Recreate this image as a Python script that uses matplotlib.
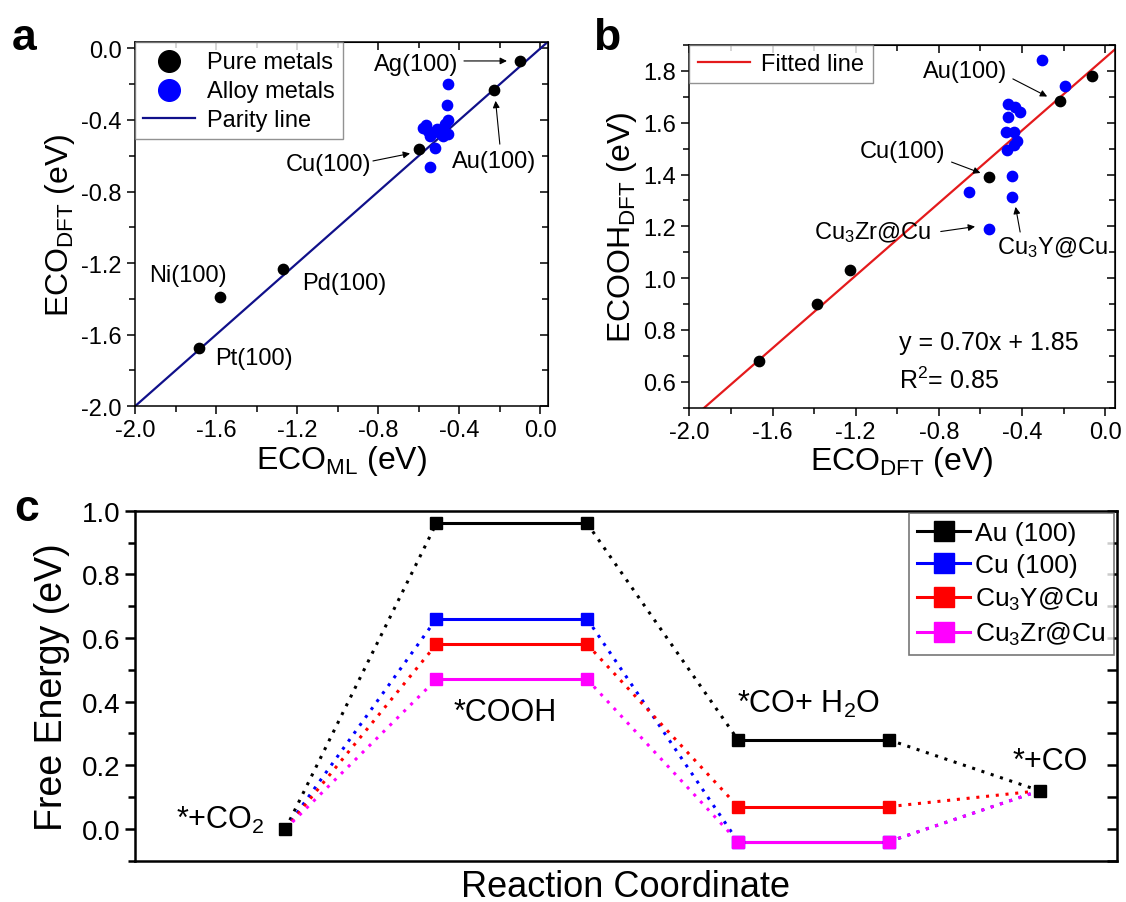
import numpy as np
import matplotlib
matplotlib.use('Agg')
from matplotlib import pyplot as plt
from matplotlib.ticker import MultipleLocator

plt.rcParams['font.family'] = ['Liberation Sans', 'DejaVu Sans']
plt.rcParams['mathtext.fontset'] = 'custom'
plt.rcParams['mathtext.rm'] = 'Liberation Sans'
plt.rcParams['mathtext.it'] = 'Liberation Sans:italic'
plt.rcParams['mathtext.bf'] = 'Liberation Sans:bold'
plt.rcParams['axes.unicode_minus'] = False

# ---- panel a : ECO ML vs DFT ----
pure_ml = [-0.099, -0.230, -0.597, -1.271, -1.580, -1.682]
pure_dft = [-0.073, -0.231, -0.563, -1.231, -1.390, -1.673]
alloy_ml = [-0.457, -0.460, -0.457, -0.471, -0.578, -0.564, -0.553, -0.512,
            -0.495, -0.454, -0.545, -0.481, -0.520, -0.547, -0.535]
alloy_dft = [-0.200, -0.315, -0.401, -0.424, -0.442, -0.429, -0.461, -0.452,
             -0.470, -0.480, -0.489, -0.489, -0.554, -0.663, -0.470]

# ---- panel b : ECOOH vs ECO (DFT) ----
pure_eco = [-1.666, -1.388, -1.226, -0.557, -0.217, -0.061]
pure_ecooh = [0.680, 0.902, 1.030, 1.392, 1.682, 1.781]
alloy_eco = [-0.467, -0.434, -0.410, -0.467, -0.478, -0.439, -0.423, -0.439,
             -0.474, -0.450, -0.450, -0.654, -0.305, -0.195, -0.560]
alloy_ecooh = [1.673, 1.660, 1.643, 1.622, 1.564, 1.564, 1.531, 1.512,
               1.493, 1.393, 1.313, 1.333, 1.842, 1.742, 1.191]
fit_slope, fit_icpt = 0.70, 1.85

# ---- panel c : free energy diagram ----
steps = [1, 2, 3, 4, 5, 6]
surfaces = ['Au (100)', 'Cu (100)', 'Cu$_3$Y@Cu', 'Cu$_3$Zr@Cu']
colors = ['#000000', '#0000ff', '#ff0000', '#ff00ff']
G = [[0.0, 0.96, 0.96, 0.28, 0.28, 0.12],
     [0.0, 0.66, 0.66, -0.04, -0.04, 0.12],
     [0.0, 0.58, 0.58, 0.07, 0.07, 0.12],
     [0.0, 0.47, 0.47, -0.04, -0.04, 0.12]]

fig = plt.figure(figsize=(11.26, 9.03), dpi=100)
ax1 = fig.add_axes([0.1199, 0.549, 0.3672, 0.403])
ax2 = fig.add_axes([0.6123, 0.5474, 0.3775, 0.4017])
ax3 = fig.add_axes([0.1196, 0.0457, 0.872, 0.3876])


def style_box(ax, lw=1.1):
    for s in ax.spines.values():
        s.set_linewidth(lw)
    ax.tick_params(which='both', direction='out', labelsize=17, width=lw)
    ax.tick_params(which='major', length=6)
    ax.tick_params(which='minor', length=4)
    # origin style: inward ticks on top/right
    top = ax.secondary_xaxis('top')
    top.xaxis.set_major_locator(MultipleLocator(0.4))
    top.xaxis.set_minor_locator(MultipleLocator(0.2))
    right = ax.secondary_yaxis('right')
    right.yaxis.set_major_locator(ax.yaxis.get_major_locator())
    right.yaxis.set_minor_locator(ax.yaxis.get_minor_locator())
    for tw in (top, right):
        tw.tick_params(which='both', direction='in', width=lw, labelsize=0)
        tw.tick_params(which='major', length=6)
        tw.tick_params(which='minor', length=4)
    top.set_xticklabels([])
    right.set_yticklabels([])


arrow = dict(arrowstyle='-|>', color='k', lw=0.8, mutation_scale=10, shrinkA=0, shrinkB=0)
fs_ann = 17

# panel a
ax1.plot([-2, 0.04], [-2, 0.04], color='#10108a', lw=1.6, label='Parity line', zorder=1)
ax1.scatter(pure_ml, pure_dft, s=55, color='k', zorder=3, label='Pure metals')
ax1.scatter(alloy_ml, alloy_dft, s=55, color='#0000ff', zorder=2, label='Alloy metals')
ax1.set_xlim(-2, 0.04)
ax1.set_ylim(-2, 0.034)
ax1.xaxis.set_major_locator(MultipleLocator(0.4))
ax1.xaxis.set_minor_locator(MultipleLocator(0.2))
ax1.yaxis.set_major_locator(MultipleLocator(0.4))
ax1.yaxis.set_minor_locator(MultipleLocator(0.2))
style_box(ax1)
ax1.set_xlabel('ECO$_{\\mathrm{ML}}$ (eV)', fontsize=23, labelpad=1)
ax1.set_ylabel('ECO$_{\\mathrm{DFT}}$ (eV)', fontsize=23, labelpad=3)
h, l = ax1.get_legend_handles_labels()
leg = ax1.legend([h[1], h[2], h[0]], [l[1], l[2], l[0]], loc='upper left', fontsize=17,
                 fancybox=False, borderaxespad=0, markerscale=2.1, handlelength=2.2,
                 handletextpad=0.5, labelspacing=0.3, borderpad=0.35)
leg.get_frame().set_edgecolor('#777777')
leg.get_frame().set_linewidth(1.0)
ax1.text(-0.821, -0.088, 'Ag(100)', fontsize=fs_ann, va='center')
ax1.annotate('', xy=(-0.165, -0.070), xytext=(-0.377, -0.070), arrowprops=arrow)
ax1.text(-0.436, -0.631, 'Au(100)', fontsize=fs_ann, va='center')
ax1.annotate('', xy=(-0.221, -0.293), xytext=(-0.200, -0.535), arrowprops=arrow)
ax1.text(-1.257, -0.647, 'Cu(100)', fontsize=fs_ann, va='center')
ax1.annotate('', xy=(-0.643, -0.587), xytext=(-0.826, -0.629), arrowprops=arrow)
ax1.text(-1.931, -1.269, 'Ni(100)', fontsize=fs_ann, va='center')
ax1.text(-1.177, -1.313, 'Pd(100)', fontsize=fs_ann, va='center')
ax1.text(-1.603, -1.729, 'Pt(100)', fontsize=fs_ann, va='center')

# panel b
xf = np.array([-2.0, 0.05])
ax2.plot(xf, fit_slope * xf + fit_icpt, color='#e41a1c', lw=1.6, label='Fitted line', zorder=1)
ax2.scatter(pure_eco, pure_ecooh, s=55, color='k', zorder=3)
ax2.scatter(alloy_eco, alloy_ecooh, s=55, color='#0000ff', zorder=2)
ax2.set_xlim(-2, 0.045)
ax2.set_ylim(0.5, 1.9)
ax2.xaxis.set_major_locator(MultipleLocator(0.4))
ax2.xaxis.set_minor_locator(MultipleLocator(0.2))
ax2.yaxis.set_major_locator(MultipleLocator(0.2))
ax2.yaxis.set_minor_locator(MultipleLocator(0.1))
style_box(ax2)
ax2.set_xlabel('ECO$_{\\mathrm{DFT}}$ (eV)', fontsize=23, labelpad=1)
ax2.set_ylabel('ECOOH$_{\\mathrm{DFT}}$ (eV)', fontsize=23, labelpad=3)
leg2 = ax2.legend(loc='upper left', fontsize=17, fancybox=False, borderaxespad=0,
                  handlelength=2.2, handletextpad=0.5, borderpad=0.35)
leg2.get_frame().set_edgecolor('#777777')
leg2.get_frame().set_linewidth(1.0)
ax2.text(-0.878, 1.801, 'Au(100)', fontsize=fs_ann, va='center')
ax2.annotate('', xy=(-0.279, 1.701), xytext=(-0.444, 1.769), arrowprops=arrow)
ax2.text(-1.182, 1.489, 'Cu(100)', fontsize=fs_ann, va='center')
ax2.annotate('', xy=(-0.600, 1.406), xytext=(-0.739, 1.448), arrowprops=arrow)
ax2.text(-1.399, 1.178, 'Cu$_3$Zr@Cu', fontsize=fs_ann, va='center')
ax2.annotate('', xy=(-0.626, 1.199), xytext=(-0.791, 1.180), arrowprops=arrow)
ax2.text(-0.522, 1.122, 'Cu$_3$Y@Cu', fontsize=fs_ann, va='center')
ax2.annotate('', xy=(-0.431, 1.275), xytext=(-0.409, 1.178), arrowprops=arrow)
ax2.text(-0.990, 0.755, 'y = 0.70x + 1.85', fontsize=18, va='center')
ax2.text(-0.990, 0.607, 'R$^2$= 0.85', fontsize=18, va='center')

# panel c
for name, col, g in zip(surfaces, colors, G):
    # dotted connectors between states
    for i in (0, 2, 4):
        ax3.plot(steps[i:i + 2], g[i:i + 2], color=col, lw=2.2, ls=(0, (1, 2.2)), zorder=1)
    ax3.plot(steps[1:3], g[1:3], color=col, lw=2.2, zorder=2)
    ax3.plot(steps[3:5], g[3:5], color=col, lw=2.2, zorder=2)
    ax3.plot(steps[1:5], g[1:5], ls='none', marker='s', ms=9, color=col, zorder=3)
    ax3.plot([], [], color=col, lw=2.2, marker='s', ms=15, label=name)
# shared initial/final states drawn in black
ax3.plot([steps[0], steps[-1]], [G[0][0], G[0][-1]], ls='none', marker='s', ms=9,
         color='k', zorder=4)
ax3.set_xlim(0, 6.51)
ax3.set_ylim(-0.1, 1.0)
ax3.set_xticks([])
ax3.yaxis.set_major_locator(MultipleLocator(0.2))
ax3.yaxis.set_minor_locator(MultipleLocator(0.1))
for s in ax3.spines.values():
    s.set_linewidth(1.8)
ax3.tick_params(which='both', direction='out', labelsize=20, width=1.8)
ax3.tick_params(which='major', length=7)
ax3.tick_params(which='minor', length=5)
tw = ax3.secondary_yaxis('right')
tw.yaxis.set_major_locator(MultipleLocator(0.1))
tw.tick_params(direction='in', length=7, width=1.8)
tw.set_yticklabels([])
ax3.set_ylabel('Free Energy (eV)', fontsize=27, labelpad=8)
ax3.set_xlabel('Reaction Coordinate', fontsize=26, labelpad=6)
ax3.text(0.274, 0.03, '*+CO$_2$', fontsize=22, va='center')
ax3.text(2.113, 0.367, '*COOH', fontsize=22, va='center')
ax3.text(3.995, 0.393, '*CO+ H$_2$O', fontsize=22, va='center')
ax3.text(5.818, 0.215, '*+CO', fontsize=22, va='center')
leg3 = ax3.legend(loc='upper right', fontsize=19, fancybox=False, borderaxespad=0.1,
                  handlelength=2.0, handletextpad=0.2, labelspacing=0.3, borderpad=0.3)
leg3.get_frame().set_edgecolor('#555555')
leg3.get_frame().set_linewidth(1.2)

# panel letters
fig.text(0.010, 0.945, 'a', fontsize=32, fontweight='bold', va='baseline')
fig.text(0.527, 0.945, 'b', fontsize=32, fontweight='bold', va='baseline')
fig.text(0.013, 0.423, 'c', fontsize=32, fontweight='bold', va='baseline')

fig.savefig('out.png', dpi=100)
